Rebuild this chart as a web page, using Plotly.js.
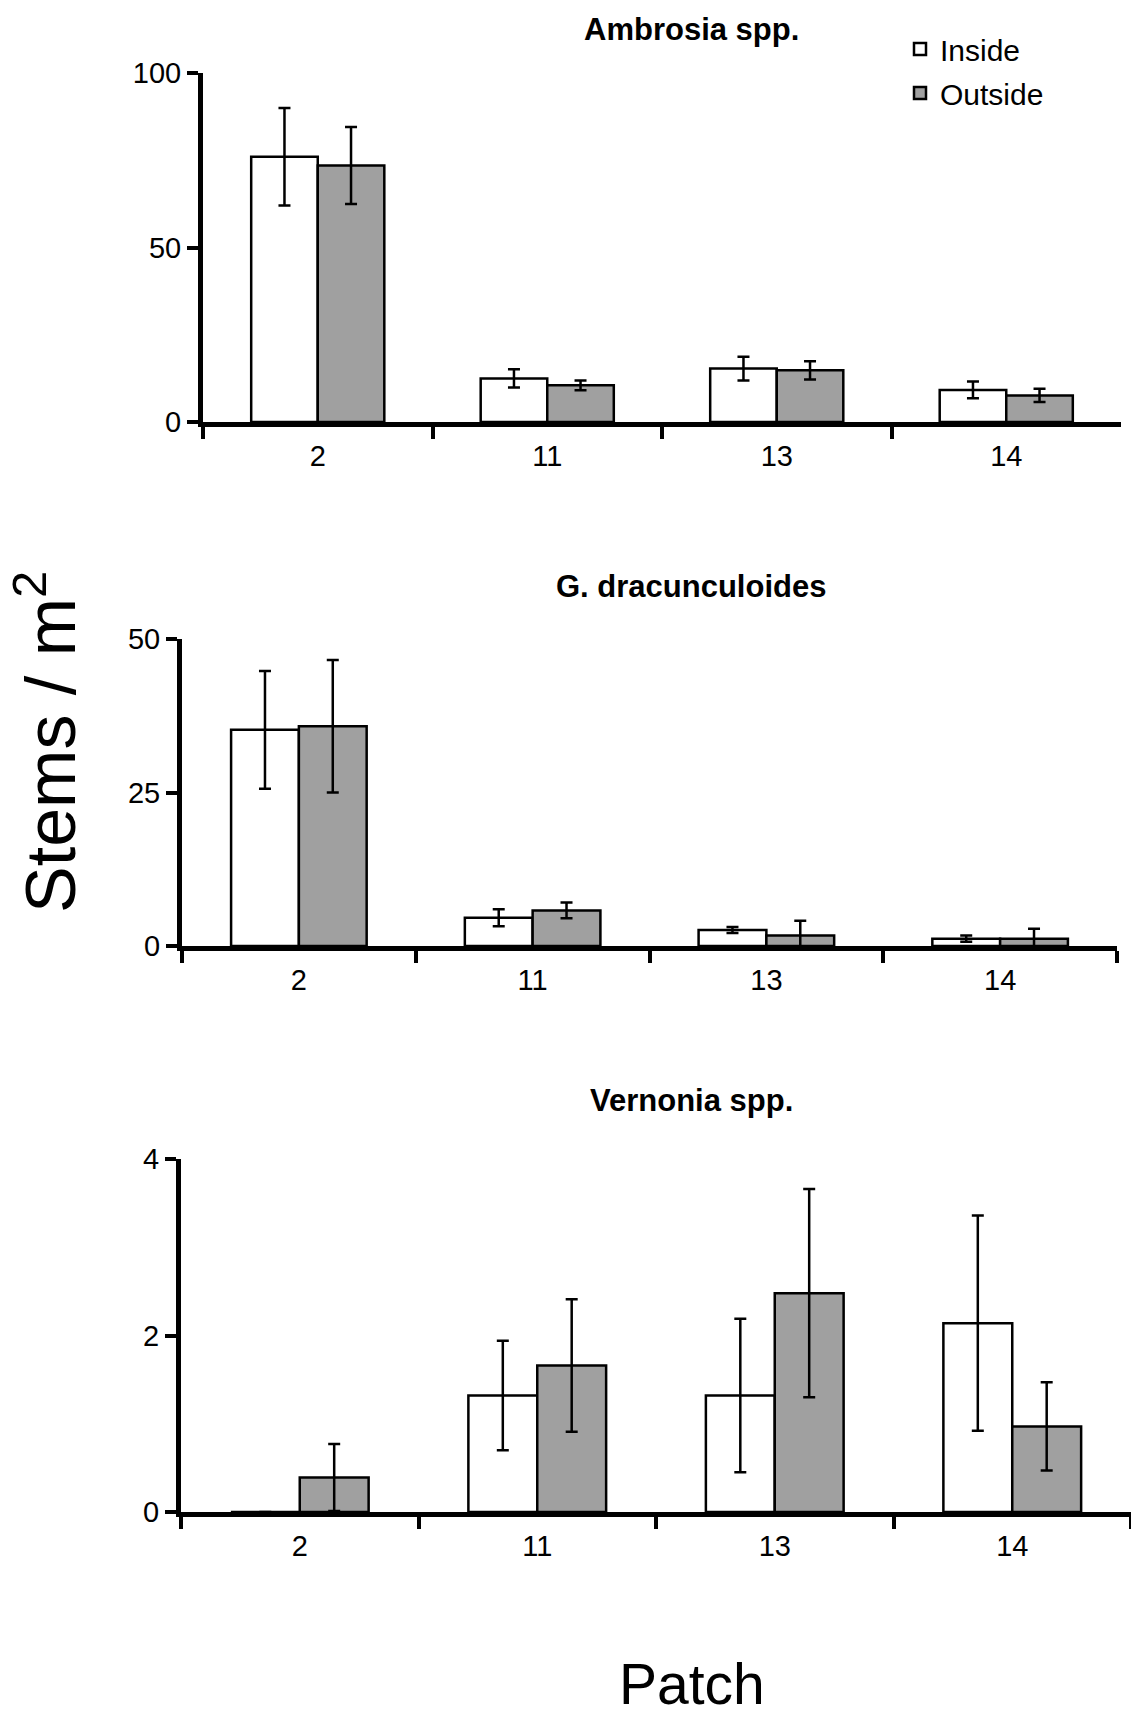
<!DOCTYPE html>
<html>
<head>
<meta charset="utf-8">
<script src="https://cdn.plot.ly/plotly-3.0.1.min.js"></script>
<style>html,body{margin:0;padding:0;background:#fff;}#chart{width:1131px;height:1718px;}</style>
</head>
<body>
<div id="chart"></div>
<script>
// ---- data ----
const patches = ['2', '11', '13', '14'];

const ambrosiaInside = [76, 12.5, 15.3, 9.2];
const ambrosiaInsideErr = [14, 2.6, 3.4, 2.4];
const ambrosiaOutside = [73.5, 10.5, 14.8, 7.6];
const ambrosiaOutsideErr = [11, 1.4, 2.6, 1.9];

const gdracInside = [35.2, 4.6, 2.6, 1.2];
const gdracInsideErr = [9.6, 1.4, 0.5, 0.5];
const gdracOutside = [35.8, 5.8, 1.7, 1.2];
const gdracOutsideErr = [10.8, 1.3, 2.4, 1.6];

const vernoniaInside = [0, 1.32, 1.32, 2.14];
const vernoniaInsideErr = [0, 0.62, 0.87, 1.22];
const vernoniaOutside = [0.39, 1.66, 2.48, 0.97];
const vernoniaOutsideErr = [0.38, 0.75, 1.18, 0.5];

const panelTitles = ['Ambrosia spp.', 'G. dracunculoides', 'Vernonia spp.'];
const seriesNames = ['Inside', 'Outside'];
const yRanges = [[0, 100], [0, 50], [0, 4]];
const yDticks = [50, 25, 2];

// ---- styling ----
const FONT = 'Liberation Sans, Arial, sans-serif';
const insideColor = '#ffffff';
const outsideColor = '#a0a0a0';

function barTrace(y, err, idx, name, color, showlegend) {
  const ax = idx === 0 ? '' : String(idx + 1);
  return {
    type: 'bar',
    x: patches,
    y: y,
    name: name,
    legendgroup: name,
    showlegend: showlegend,
    xaxis: 'x' + ax,
    yaxis: 'y' + ax,
    marker: {color: color, line: {color: '#000', width: 2.5}},
    error_y: {type: 'data', array: err, visible: true, color: '#000', thickness: 2.5, width: 6}
  };
}

const data = [
  barTrace(ambrosiaInside, ambrosiaInsideErr, 0, seriesNames[0], insideColor, true),
  barTrace(ambrosiaOutside, ambrosiaOutsideErr, 0, seriesNames[1], outsideColor, true),
  barTrace(gdracInside, gdracInsideErr, 1, seriesNames[0], insideColor, false),
  barTrace(gdracOutside, gdracOutsideErr, 1, seriesNames[1], outsideColor, false),
  barTrace(vernoniaInside, vernoniaInsideErr, 2, seriesNames[0], insideColor, false),
  barTrace(vernoniaOutside, vernoniaOutsideErr, 2, seriesNames[1], outsideColor, false)
];

const W = 1131, H = 1718;
const xDomains = [[203 / W, 1121 / W], [182 / W, 1117 / W], [181 / W, 1]];
const yDomains = [[1 - 422 / H, 1 - 73 / H], [1 - 946 / H, 1 - 639 / H], [1 - 1512 / H, 1 - 1159 / H]];

function xaxis(i) {
  return {
    domain: xDomains[i], anchor: i === 0 ? 'y' : 'y' + (i + 1),
    type: 'category', tickson: 'boundaries', ticks: 'outside', ticklen: 12, tickwidth: 4, tickcolor: '#000',
    showline: true, linecolor: '#000', linewidth: 5, showgrid: false, zeroline: false,
    tickfont: {family: FONT, size: 29, color: '#000'}, ticklabelstandoff: 4, fixedrange: true
  };
}
function yaxis(i) {
  return {
    domain: yDomains[i], anchor: i === 0 ? 'x' : 'x' + (i + 1),
    range: yRanges[i], dtick: yDticks[i], tick0: 0,
    ticks: 'outside', ticklen: 11, tickwidth: 4, tickcolor: '#000',
    showline: true, linecolor: '#000', linewidth: 5, showgrid: false, zeroline: false,
    tickfont: {family: FONT, size: 29, color: '#000'}, ticklabelstandoff: 0, fixedrange: true
  };
}

const titleY = [30, 587, 1100];
const annotations = panelTitles.map((t, i) => ({
  text: '<b>' + t + '</b>', xref: 'paper', yref: 'paper',
  x: 691 / W, y: 1 - titleY[i] / H, xanchor: 'center', yanchor: 'middle',
  showarrow: false, font: {family: FONT, size: 31, color: '#000'}
}));
annotations.push({
  text: 'Stems / m<sup>2</sup>', xref: 'paper', yref: 'paper', x: 46 / W, y: 1 - 742 / H,
  xanchor: 'center', yanchor: 'middle', textangle: -90, showarrow: false,
  font: {family: FONT, size: 70, color: '#000'}
});
annotations.push({
  text: 'Patch', xref: 'paper', yref: 'paper', x: 692 / W, y: 1 - 1684 / H,
  xanchor: 'center', yanchor: 'middle', showarrow: false,
  font: {family: FONT, size: 57, color: '#000'}
});

const layout = {
  width: W, height: H,
  margin: {l: 0, r: 0, t: 0, b: 0},
  paper_bgcolor: '#fff', plot_bgcolor: 'rgba(0,0,0,0)',
  barmode: 'group', bargap: 0.42, bargroupgap: 0,
  showlegend: true,
  legend: {x: 900 / W, y: 1 - 23 / H, xanchor: 'left', yanchor: 'top',
           font: {family: FONT, size: 30, color: '#000'}, bgcolor: 'rgba(0,0,0,0)',
           traceorder: 'grouped', tracegroupgap: 2, itemwidth: 30},
  xaxis: xaxis(0), yaxis: yaxis(0),
  xaxis2: xaxis(1), yaxis2: yaxis(1),
  xaxis3: xaxis(2), yaxis3: yaxis(2),
  annotations: annotations
};

Plotly.newPlot('chart', data, layout, {staticPlot: true});
</script>
</body>
</html>
